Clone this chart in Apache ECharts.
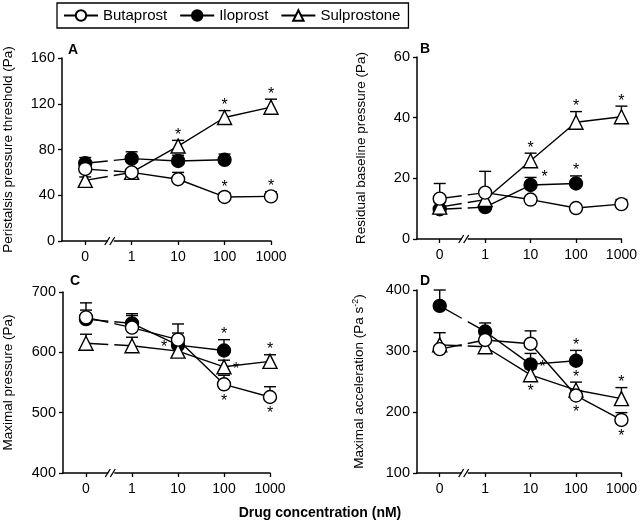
<!DOCTYPE html>
<html><head><meta charset="utf-8">
<script src="https://cdn.jsdelivr.net/npm/echarts@6/dist/echarts.min.js"></script>
<style>html,body{margin:0;padding:0;background:#fff}#c{width:640px;height:526px}</style>
</head><body><div id="c"></div>
<script>
const xLabels = ['0', '1', '10', '100', '1000'];
const drugs = ['Butaprost', 'Iloprost', 'Sulprostone'];

// Panel A: Peristalsis pressure threshold (Pa)
const aButaMean = [63, 60, 54, 38.5, 39];
const aButaErr  = [4, 3, 6, 3.5, 4];
const aIloMean  = [68, 72, 70, 71];
const aIloErr   = [5, 6, 5, 5];
const aSulpMean = [53, 60, 83, 108, 117];
const aSulpErr  = [3, 3, 5, 6, 7];
const aStars = [[2, 2, 'top'], [2, 3, 'top'], [2, 4, 'top'], [0, 3, 'top'], [0, 4, 'top']];

// Panel B: Residual baseline pressure (Pa)
const bButaMean = [13.3, 15.3, 13, 10.2, 11.5];
const bButaErr  = [5, 7, 1, 1, 1.5];
const bIloMean  = [9.8, 10.5, 17.8, 18.3];
const bIloErr   = [1, 1, 2.5, 2.5];
const bSulpMean = [10.5, 13, 25.8, 38.5, 40.3];
const bSulpErr  = [1.5, 1.5, 2.5, 3.5, 3.5];
const bStars = [[2, 2, 'top'], [2, 3, 'top'], [2, 4, 'top'], [1, 2, 'rightTop'], [1, 3, 'top']];

// Panel C: Maximal pressure (Pa)
const cButaMean = [658, 641, 621, 547, 526];
const cButaErr  = [24, 20, 26, 15, 17];
const cIloMean  = [655, 648, 612, 603];
const cIloErr   = [15, 16, 20, 18];
const cSulpMean = [615, 611, 602, 576, 585];
const cSulpErr  = [15, 14, 14, 11, 11];
const cStars = [[1, 3, 'top'], [0, 3, 'bottom'], [0, 4, 'bottom'], [2, 4, 'top'], [2, 3, 'right'], [2, 2, 'left']];

// Panel D: Maximal acceleration (Pa s-2)
const dButaMean = [303, 318, 312, 227, 187];
const dButaErr  = [5, 10, 21, 8, 12];
const dIloMean  = [374, 332, 278, 284];
const dIloErr   = [26, 14, 18, 17];
const dSulpMean = [310, 307, 261, 236, 222];
const dSulpErr  = [20, 12, 10, 13, 18];
const dStars = [[0, 3, 'bottom'], [0, 4, 'bottom'], [2, 2, 'bottom'], [1, 2, 'right'], [1, 3, 'top'], [2, 3, 'top'], [2, 4, 'top']];

const FONT = 'Liberation Sans, Arial, sans-serif';
const BREAK_X = 0.55;
const panels = [
  {label: 'A', grid: {left: 62, top: 58, width: 209, height: 183}, y: [0, 160, 40], name: 'Peristalsis pressure threshold (Pa)', gap: 47, lx: 68, ly: 43,
   means: [aButaMean, aIloMean, aSulpMean], errs: [aButaErr, aIloErr, aSulpErr], stars: aStars},
  {label: 'B', grid: {left: 417, top: 57, width: 208, height: 182}, y: [0, 60, 20], name: 'Residual baseline pressure (Pa)', gap: 49, lx: 420, ly: 42,
   means: [bButaMean, bIloMean, bSulpMean], errs: [bButaErr, bIloErr, bSulpErr], stars: bStars},
  {label: 'C', grid: {left: 61, top: 292, width: 209, height: 181}, y: [400, 700, 100], name: 'Maximal pressure (Pa)', gap: 48, lx: 70, ly: 274,
   means: [cButaMean, cIloMean, cSulpMean], errs: [cButaErr, cIloErr, cSulpErr], stars: cStars},
  {label: 'D', grid: {left: 417, top: 290, width: 208, height: 183}, y: [100, 400, 100], name: 'Maximal acceleration (Pa s{sup|-2})', gap: 49, lx: 420, ly: 274,
   means: [dButaMean, dIloMean, dSulpMean], errs: [dButaErr, dIloErr, dSulpErr], stars: dStars}
];

const symbols = [
  {symbol: 'circle', size: 13, fill: '#fff', z: 6},
  {symbol: 'circle', size: 13, fill: '#000', z: 4},
  {symbol: 'triangle', size: 14, fill: '#fff', z: 5}
];
const LW = 1.4;

const grids = [], xAxes = [], yAxes = [], series = [], graphics = [];

panels.forEach((p, pi) => {
  grids.push(Object.assign({containLabel: false}, p.grid));
  xAxes.push({
    type: 'value', gridIndex: pi, min: -0.5, max: 4,
    axisLine: {onZero: false, lineStyle: {color: '#000', width: 1.5}},
    axisTick: {show: true, length: 4, customValues: [0, 1, 2, 3, 4], lineStyle: {color: '#000', width: 1.3}},
    axisLabel: {customValues: [0, 1, 2, 3, 4], formatter: v => xLabels[Math.round(v)], color: '#000', fontSize: 14, fontFamily: FONT, margin: 9},
    splitLine: {show: false}
  });
  yAxes.push({
    type: 'value', gridIndex: pi, min: p.y[0], max: p.y[1], interval: p.y[2],
    name: p.name, nameLocation: 'middle', nameRotate: 90, nameGap: p.gap,
    nameTextStyle: {color: '#000', fontSize: 13.5, fontFamily: FONT, rich: {sup: {fontSize: 9, verticalAlign: 'top', padding: [0, 0, 8, 0], fontFamily: FONT, color: '#000'}}},
    axisLine: {show: true, onZero: false, lineStyle: {color: '#000', width: 1.5}},
    axisTick: {show: true, length: 4, lineStyle: {color: '#000', width: 1.3}},
    axisLabel: {color: '#000', fontSize: 14.5, fontFamily: FONT, margin: 7},
    splitLine: {show: false}
  });

  // error bars
  const errData = [];
  p.means.forEach((m, di) => m.forEach((v, i) => errData.push([i, v, p.errs[di][i]])));
  series.push({
    type: 'custom', xAxisIndex: pi, yAxisIndex: pi, z: 1, silent: true, data: errData,
    renderItem: (params, api) => {
      const x = api.value(0), m = api.value(1), e = api.value(2);
      const p0 = api.coord([x, m]), p1 = api.coord([x, m + e]);
      const st = {stroke: '#000', lineWidth: LW};
      return {type: 'group', children: [
        {type: 'line', shape: {x1: p0[0], y1: p0[1], x2: p1[0], y2: p1[1]}, style: st},
        {type: 'line', shape: {x1: p1[0] - 6, y1: p1[1], x2: p1[0] + 6, y2: p1[1]}, style: st}
      ]};
    }
  });

  // lines + markers
  p.means.forEach((m, di) => {
    const sy = symbols[di];
    const pts = m.map((v, i) => [i, v]);
    const itemStyle = {color: sy.fill, borderColor: '#000', borderWidth: LW, opacity: 1};
    // solid line from 1 nM onward (owns the legend entry)
    series.push({
      name: drugs[di], type: 'line', xAxisIndex: pi, yAxisIndex: pi, z: sy.z,
      data: pts.slice(1), symbol: sy.symbol, symbolSize: sy.size, showSymbol: true,
      itemStyle: itemStyle, lineStyle: {color: '#000', width: LW, opacity: 1},
      emphasis: {disabled: true}
    });
    // marker at 0 nM
    series.push({
      name: drugs[di], type: 'scatter', xAxisIndex: pi, yAxisIndex: pi, z: sy.z,
      data: pts.slice(0, 1), symbol: sy.symbol, symbolSize: sy.size,
      itemStyle: itemStyle, emphasis: {disabled: true}
    });
    // 0 -> 1 segment, interrupted at the axis break
    series.push({
      type: 'custom', xAxisIndex: pi, yAxisIndex: pi, z: 2, silent: true,
      data: [[m[0], m[1]]],
      renderItem: (params, api) => {
        const a = api.coord([0, api.value(0)]), b = api.coord([1, api.value(1)]);
        const xb = api.coord([BREAK_X, p.y[0]])[0];
        const yAt = x => a[1] + (b[1] - a[1]) * (x - a[0]) / (b[0] - a[0]);
        const st = {stroke: '#000', lineWidth: LW};
        return {type: 'group', children: [
          {type: 'line', shape: {x1: a[0], y1: a[1], x2: xb - 3, y2: yAt(xb - 3)}, style: st},
          {type: 'line', shape: {x1: xb + 3, y1: yAt(xb + 3), x2: b[0], y2: b[1]}, style: st}
        ]};
      }
    });
  });

  // axis break mark
  series.push({
    type: 'custom', xAxisIndex: pi, yAxisIndex: pi, z: 10, silent: true, clip: false,
    data: [[BREAK_X, p.y[0]]],
    renderItem: (params, api) => {
      const c = api.coord([api.value(0), api.value(1)]);
      const st = {stroke: '#000', lineWidth: 1.3};
      return {type: 'group', children: [
        {type: 'rect', shape: {x: c[0] - 3, y: c[1] - 2, width: 6, height: 4}, style: {fill: '#fff'}},
        {type: 'line', shape: {x1: c[0] - 6, y1: c[1] + 4, x2: c[0] - 1, y2: c[1] - 4}, style: st},
        {type: 'line', shape: {x1: c[0] - 1, y1: c[1] + 4, x2: c[0] + 4, y2: c[1] - 4}, style: st}
      ]};
    }
  });

  // significance asterisks
  const starData = p.stars.map(s => {
    const m = p.means[s[0]][s[1]], e = p.errs[s[0]][s[1]];
    return [s[1], m, e, s[2]];
  });
  series.push({
    type: 'custom', xAxisIndex: pi, yAxisIndex: pi, z: 12, silent: true, clip: false,
    data: starData,
    renderItem: (params, api) => {
      const d = starData[params.dataIndex];
      const cm = api.coord([d[0], d[1]]), ce = api.coord([d[0], d[1] + d[2]]);
      let x = cm[0], y = cm[1];
      if (d[3] === 'top') { y = ce[1] - 13; }
      else if (d[3] === 'bottom') { y = cm[1] + 9; }
      else if (d[3] === 'right') { x = cm[0] + 12; y = cm[1] - 5; }
      else if (d[3] === 'rightTop') { x = cm[0] + 14; y = ce[1] - 8; }
      else if (d[3] === 'left') { x = cm[0] - 14; y = cm[1] - 12; }
      return {type: 'text', x: x, y: y, style: {text: '*', fill: '#000', fontSize: 16, fontFamily: FONT, align: 'center', verticalAlign: 'top'}};
    }
  });

  graphics.push({type: 'text', left: p.lx, top: p.ly, style: {text: p.label, fill: '#000', font: 'bold 14px ' + FONT}});
});

graphics.push({type: 'text', left: 'center', top: 506, style: {text: 'Drug concentration (nM)', fill: '#000', font: 'bold 14px ' + FONT}});

const chart = echarts.init(document.getElementById('c'), null, {renderer: 'canvas'});
chart.setOption({
  animation: false,
  backgroundColor: '#fff',
  grid: grids, xAxis: xAxes, yAxis: yAxes, series: series, graphic: graphics,
  legend: {
    data: drugs, left: 57, top: 3, orient: 'horizontal',
    borderColor: '#000', borderWidth: 1.3, padding: [5, 8, 5, 6],
    itemWidth: 34, itemHeight: 13, itemGap: 12,
    textStyle: {color: '#000', fontSize: 15, fontFamily: FONT},
    selectedMode: false
  }
});
</script></body></html>
